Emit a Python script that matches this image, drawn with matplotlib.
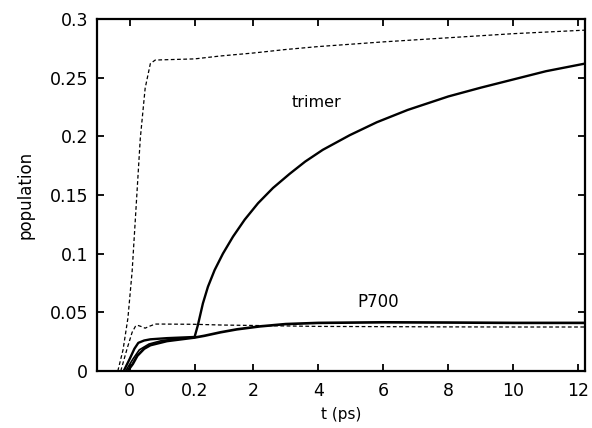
import matplotlib
matplotlib.use('Agg')
import matplotlib.pyplot as plt
import numpy as np

# solid "trimer" curve
t_trimer = [-0.018, 0.0, 0.015, 0.027, 0.045, 0.064, 0.115, 0.2, 0.3, 0.455, 0.61, 0.815, 1.07,
            1.38, 1.74, 2.15, 2.61, 3.12, 3.6, 4.14, 4.97, 5.8, 6.75, 8.0, 9.0, 10.0, 11.0, 12.2]
y_trimer = [0.0, 0.010, 0.019, 0.024, 0.026, 0.027, 0.028, 0.029, 0.039, 0.0576, 0.0718, 0.086, 0.100,
            0.1145, 0.129, 0.143, 0.156, 0.168, 0.1785, 0.1885, 0.201, 0.212, 0.2225, 0.234, 0.2415,
            0.2485, 0.2555, 0.262]

# thin solid curve, early times only
t_mid = [-0.012, 0.01, 0.03, 0.06, 0.1, 0.15, 0.2]
y_mid = [0.0, 0.010, 0.018, 0.023, 0.026, 0.0275, 0.0285]

# solid "P700" curve
t_p700 = [-0.006, 0.01, 0.024, 0.045, 0.064, 0.115, 0.2, 0.5, 1.0, 1.5, 2.2, 3.0, 4.0,
          6.0, 8.0, 10.0, 12.2]
y_p700 = [0.0, 0.006, 0.013, 0.019, 0.022, 0.0255, 0.0285, 0.030, 0.033, 0.0355, 0.038, 0.040, 0.041,
          0.0415, 0.0413, 0.041, 0.041]

# dashed trimer reference
t_trimer_d = [-0.036, -0.02, -0.005, 0.008, 0.018, 0.033, 0.048, 0.064, 0.079, 0.1, 0.2, 1.0, 2.0, 3.0,
              4.0, 6.0, 8.0, 10.0, 12.2]
y_trimer_d = [0.0, 0.018, 0.045, 0.085, 0.13, 0.198, 0.241, 0.262, 0.265, 0.2652, 0.266, 0.2685, 0.271,
              0.274, 0.2765, 0.2805, 0.284, 0.2875, 0.2905]

# dashed P700 reference
t_p700_d = [-0.027, -0.007, 0.008, 0.018, 0.024, 0.035, 0.048, 0.06, 0.079, 0.1, 0.2, 1.0, 2.0,
            4.0, 6.0, 8.0, 10.0, 12.2]
y_p700_d = [0.0, 0.0195, 0.033, 0.038, 0.039, 0.038, 0.0365, 0.038, 0.040, 0.040, 0.0398, 0.0392, 0.0388,
            0.038, 0.0378, 0.0376, 0.0375, 0.0375]

xticks = [0, 0.2, 2, 4, 6, 8, 10, 12]
xticklabels = ['0', '0.2', '2', '4', '6', '8', '10', '12']
yticks = [0, 0.05, 0.1, 0.15, 0.2, 0.25, 0.3]
yticklabels = ['0', '0.05', '0.1', '0.15', '0.2', '0.25', '0.3']


# time axis: early window [-0.1, 0.2] is stretched 10x against the rest
def fwd(x):
    x = np.asarray(x, dtype=float)
    return np.where(x <= 0.2, 10 * x, 2 + (x - 0.2))


def inv(y):
    y = np.asarray(y, dtype=float)
    return np.where(y <= 2, y / 10, y - 1.8)


plt.rcParams['font.family'] = ['DejaVu Sans']

fig = plt.figure(figsize=(5.92, 4.28), dpi=100)
ax = fig.add_axes([97 / 592, (428 - 371) / 428, (585 - 97) / 592, (371 - 19) / 428])
ax.set_xscale('function', functions=(fwd, inv))

ax.plot(t_trimer_d, y_trimer_d, color='black', lw=0.9, ls=(0, (3, 2)))
ax.plot(t_p700_d, y_p700_d, color='black', lw=0.9, ls=(0, (3, 2)))
ax.plot(t_mid, y_mid, color='black', lw=1.2)
ax.plot(t_trimer, y_trimer, color='black', lw=1.7)
ax.plot(t_p700, y_p700, color='black', lw=1.9)

ax.set_xlim(-0.1, 12.2)
ax.set_ylim(0, 0.3)
ax.set_xticks(xticks)
ax.set_xticklabels(xticklabels)
ax.set_yticks(yticks)
ax.set_yticklabels(yticklabels)
ax.minorticks_off()
ax.tick_params(direction='in', length=5, width=1.3, top=True, right=True, labelsize=12.5)
ax.tick_params(axis='x', pad=8)
ax.tick_params(axis='y', pad=6.5)
for s in ax.spines.values():
    s.set_linewidth(1.6)

ax.set_xlabel('t (ps)', fontsize=11, labelpad=5)
ax.set_ylabel('population', fontsize=12, labelpad=11)

ax.text(3.95, 0.229, 'trimer', fontsize=11.5, ha='center', va='center')
ax.text(5.83, 0.0586, 'P700', fontsize=12, ha='center', va='center')

fig.savefig('out.png', dpi=100)
